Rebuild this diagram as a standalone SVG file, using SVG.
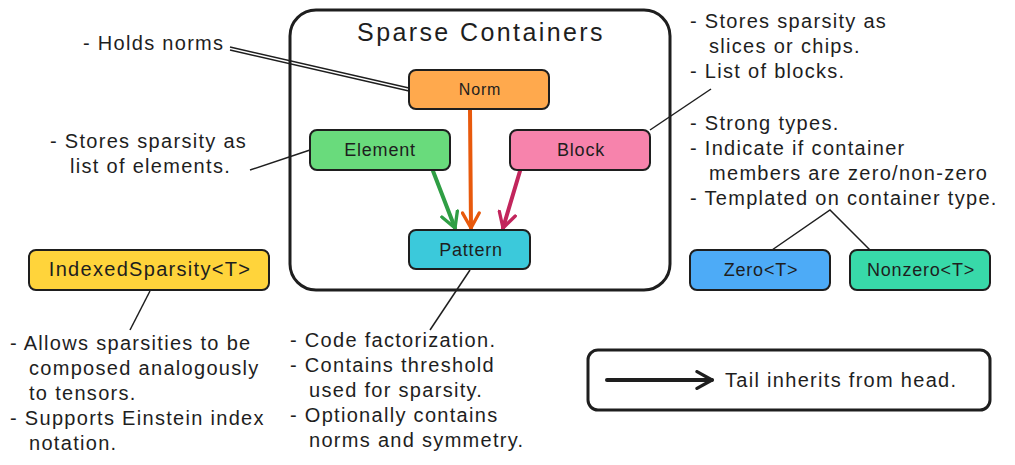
<svg xmlns="http://www.w3.org/2000/svg" width="1015" height="465" viewBox="0 0 1015 465">
<defs>
<style>
text{font-family:"Liberation Sans",Arial,sans-serif;fill:#1e1e1e;}
.t{font-size:20px;letter-spacing:1.3px;}
.n{font-size:18px;letter-spacing:0.8px;text-anchor:middle;}
.box{stroke:#1e1e1e;stroke-width:2;}
.ln{stroke:#1e1e1e;stroke-width:1.5;fill:none;}
</style>
<marker id="hO" viewBox="0 0 12 12" refX="10" refY="6" markerWidth="5" markerHeight="5" orient="auto" markerUnits="strokeWidth"><path d="M1,1 L10,6 L1,11" fill="none" stroke="#e8590c" stroke-width="2" stroke-linecap="round" stroke-linejoin="round"/></marker>
<marker id="hG" viewBox="0 0 12 12" refX="10" refY="6" markerWidth="5" markerHeight="5" orient="auto" markerUnits="strokeWidth"><path d="M1,1 L10,6 L1,11" fill="none" stroke="#2f9e44" stroke-width="2" stroke-linecap="round" stroke-linejoin="round"/></marker>
<marker id="hP" viewBox="0 0 12 12" refX="10" refY="6" markerWidth="5" markerHeight="5" orient="auto" markerUnits="strokeWidth"><path d="M1,1 L10,6 L1,11" fill="none" stroke="#c2255c" stroke-width="2" stroke-linecap="round" stroke-linejoin="round"/></marker>
<marker id="hK" viewBox="0 0 12 12" refX="10" refY="6" markerWidth="5" markerHeight="5" orient="auto" markerUnits="strokeWidth"><path d="M1,1 L10,6 L1,11" fill="none" stroke="#1e1e1e" stroke-width="2" stroke-linecap="round" stroke-linejoin="round"/></marker>
</defs>
<rect width="1015" height="465" fill="#ffffff"/>
<g id="container">
<rect x="290" y="10" width="380" height="280" rx="26" fill="none" stroke="#1e1e1e" stroke-width="3"/>
<text x="481" y="41" style="font-size:25px;letter-spacing:2.4px;text-anchor:middle">Sparse Containers</text>
</g>
<g id="connectors">
<line x1="230" y1="47" x2="409" y2="88" class="ln" stroke-width="1"/>
<line x1="230" y1="50" x2="409" y2="91" class="ln" stroke-width="1"/>
<line x1="250" y1="170" x2="310" y2="150" class="ln"/>
<line x1="650" y1="130" x2="711" y2="89" class="ln"/>
<line x1="470" y1="270" x2="430" y2="330" class="ln"/>
<line x1="150" y1="291" x2="130" y2="330" class="ln"/>
<polyline points="772,250 830,210 870,250" class="ln"/>
<line x1="470" y1="109" x2="471" y2="228" stroke="#e8590c" stroke-width="4" stroke-linecap="round" marker-end="url(#hO)"/>
<line x1="433" y1="171" x2="455" y2="228" stroke="#2f9e44" stroke-width="4" stroke-linecap="round" marker-end="url(#hG)"/>
<line x1="520" y1="171" x2="503" y2="228" stroke="#c2255c" stroke-width="4" stroke-linecap="round" marker-end="url(#hP)"/>
</g>
<g id="norm"><rect x="409" y="70" width="140" height="39" rx="7" fill="#ffa94d" class="box"/><text x="480" y="95" class="n" style="font-size:16px">Norm</text></g>
<g id="element"><rect x="310" y="130" width="140" height="40" rx="7" fill="#69db7c" class="box"/><text x="380" y="156" class="n">Element</text></g>
<g id="block"><rect x="510" y="130" width="140" height="40" rx="7" fill="#f783ac" class="box"/><text x="581" y="156" class="n">Block</text></g>
<g id="pattern"><rect x="409" y="230" width="121" height="39" rx="7" fill="#3bc9db" class="box"/><text x="471" y="256" class="n">Pattern</text></g>
<g id="indexed"><rect x="29" y="250" width="240" height="40" rx="7" fill="#ffd43b" class="box"/><text x="150" y="276" class="n" style="font-size:20px;letter-spacing:1.3px">IndexedSparsity&lt;T&gt;</text></g>
<g id="zero"><rect x="690" y="250" width="140" height="40" rx="7" fill="#4dabf7" class="box"/><text x="761" y="276" class="n">Zero&lt;T&gt;</text></g>
<g id="nonzero"><rect x="850" y="250" width="140" height="40" rx="7" fill="#38d9a9" class="box"/><text x="921" y="276" class="n">Nonzero&lt;T&gt;</text></g>
<g id="legend">
<rect x="588" y="350" width="402" height="60" rx="10" fill="none" stroke="#1e1e1e" stroke-width="3"/>
<line x1="607" y1="380" x2="712" y2="380" stroke="#1e1e1e" stroke-width="4" stroke-linecap="round" marker-end="url(#hK)"/>
<text x="725" y="387" class="t">Tail inherits from head.</text>
</g>
<g id="notes">
<text x="83" y="50" class="t">- Holds norms</text>
<text x="50" y="148" class="t">- Stores sparsity as</text>
<text x="70" y="173" class="t">list of elements.</text>
<text x="690" y="28" class="t">- Stores sparsity as</text>
<text x="709" y="53" class="t">slices or chips.</text>
<text x="690" y="78" class="t">- List of blocks.</text>
<text x="690" y="130" class="t">- Strong types.</text>
<text x="690" y="155" class="t">- Indicate if container</text>
<text x="709" y="180" class="t">members are zero/non-zero</text>
<text x="690" y="205" class="t">- Templated on container type.</text>
<text x="10" y="350" class="t">- Allows sparsities to be</text>
<text x="29" y="375" class="t">composed analogously</text>
<text x="29" y="400" class="t">to tensors.</text>
<text x="10" y="425" class="t">- Supports Einstein index</text>
<text x="29" y="450" class="t">notation.</text>
<text x="290" y="347" class="t">- Code factorization.</text>
<text x="290" y="372" class="t">- Contains threshold</text>
<text x="309" y="397" class="t">used for sparsity.</text>
<text x="290" y="422" class="t">- Optionally contains</text>
<text x="309" y="447" class="t">norms and symmetry.</text>
</g>
</svg>
